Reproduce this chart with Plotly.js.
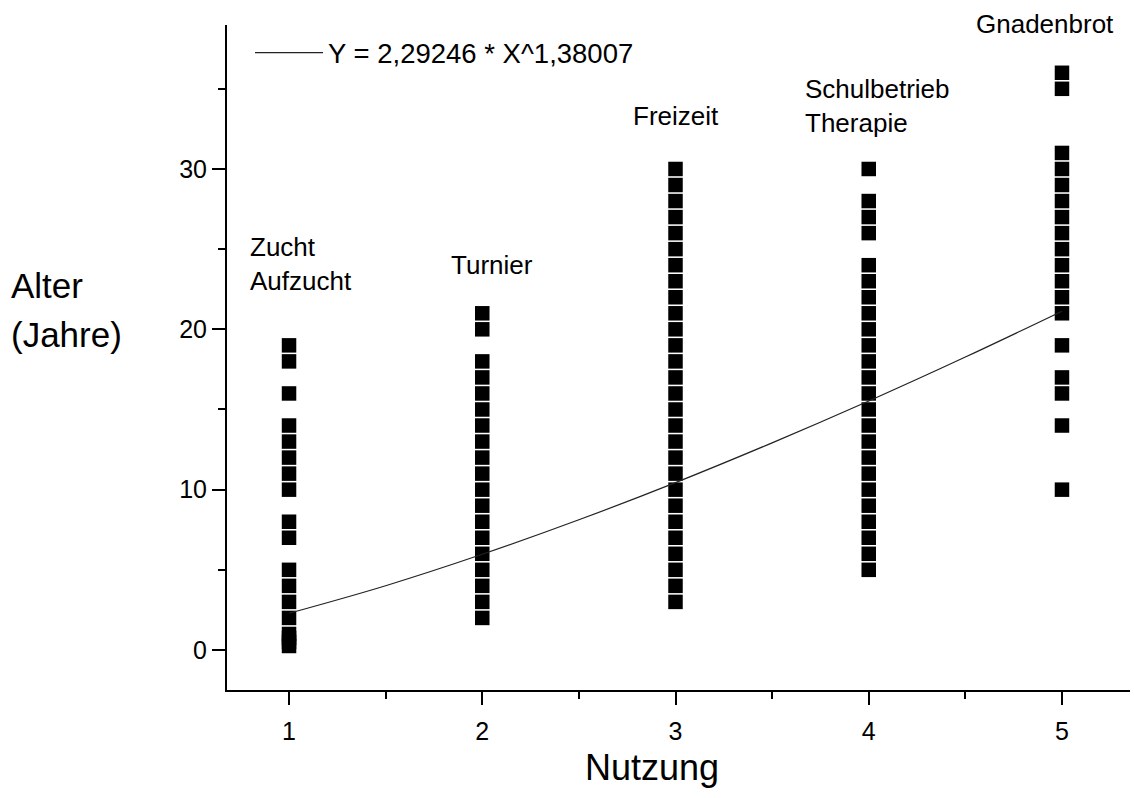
<!DOCTYPE html>
<html>
<head>
<meta charset="utf-8">
<script src="https://cdn.plot.ly/plotly-3.0.1.min.js"></script>
<style>html,body{margin:0;padding:0;background:#fff;}#chart{width:1134px;height:798px;}</style>
</head>
<body>
<div id="chart"></div>
<script>
// Nutzung categories (x positions) and labels
const categoryX = [1, 2, 3, 4, 5];
const categoryLabels = ["Zucht<br>Aufzucht", "Turnier", "Freizeit", "Schulbetrieb<br>Therapie", "Gnadenbrot"];

// Alter (Jahre) values per Nutzung
const alterZucht = [19, 18, 16, 14, 13, 12, 11, 10, 8, 7, 5, 4, 3, 2, 1, 0.75, 0.5, 0.25];
const alterTurnier = [21, 20, 18, 17, 16, 15, 14, 13, 12, 11, 10, 9, 8, 7, 6, 5, 4, 3, 2];
const alterFreizeit = [30, 29, 28, 27, 26, 25, 24, 23, 22, 21, 20, 19, 18, 17, 16, 15, 14, 13, 12, 11, 10, 9, 8, 7, 6, 5, 4, 3];
const alterSchule = [30, 28, 27, 26, 24, 23, 22, 21, 20, 19, 18, 17, 16, 15, 14, 13, 12, 11, 10, 9, 8, 7, 6, 5];
const alterGnadenbrot = [36, 35, 31, 30, 29, 28, 27, 26, 25, 24, 23, 22, 21, 19, 17, 16, 14, 10];

// Fit curve (Y = 2,29246 * X^1,38007)
const fitX = [1, 1.5, 2, 2.5, 3, 3.5, 4, 4.5, 5];
const fitY = [2.29, 4.01, 5.97, 8.12, 10.44, 12.92, 15.53, 18.27, 21.13];
const fitLabel = "Y = 2,29246 * X^1,38007";

const FONT = "Liberation Sans, Arial, sans-serif";
const groups = [alterZucht, alterTurnier, alterFreizeit, alterSchule, alterGnadenbrot];

const traces = groups.map((vals, i) => ({
  type: "scatter", mode: "markers",
  x: vals.map(() => categoryX[i]), y: vals,
  marker: {symbol: "square", size: 14.5, color: "#000", line: {width: 0}},
  showlegend: false, hoverinfo: "x+y", cliponaxis: false
}));
traces.push({
  type: "scatter", mode: "lines", x: fitX, y: fitY, name: fitLabel,
  line: {color: "#222", width: 1.2, shape: "spline"}, showlegend: true
});

const labelPos = [
  {x: 0.788, y: 24.1, yref: "y", xanchor: "left", align: "left"},
  {x: 2.05, y: 24.0, yref: "y", xanchor: "center", align: "center"},
  {x: 3.0, y: 33.3, yref: "y", xanchor: "center", align: "center"},
  {x: 3.66, y: 33.9, yref: "y", xanchor: "left", align: "left"},
  {x: 4.91, y: 1.0015, yref: "paper", xanchor: "center", align: "center"}
];
const annotations = categoryLabels.map((t, i) => Object.assign({
  text: t, xref: "x", yanchor: "middle", showarrow: false,
  font: {family: FONT, size: 26, color: "#000"}
}, labelPos[i]));
annotations.push({
  text: "Alter", xref: "paper", yref: "paper", x: -0.2414, y: 0.609,
  xanchor: "left", yanchor: "middle", align: "left", showarrow: false,
  font: {family: FONT, size: 35, color: "#000"}
});
annotations.push({
  text: "(Jahre)", xref: "paper", yref: "paper", x: -0.2414, y: 0.534,
  xanchor: "left", yanchor: "middle", align: "left", showarrow: false,
  font: {family: FONT, size: 35, color: "#000"}
});
annotations.push({
  text: "Nutzung", xref: "paper", yref: "paper", x: 0.4707, y: -0.116,
  xanchor: "center", yanchor: "middle", showarrow: false,
  font: {family: FONT, size: 36, color: "#000"}
});

const layout = {
  width: 1134, height: 798,
  margin: {l: 227, r: 4, t: 25, b: 108},
  paper_bgcolor: "#fff", plot_bgcolor: "#fff",
  font: {family: FONT, color: "#000"},
  showlegend: true,
  legend: {x: 0.0255, y: 0.995, xanchor: "left", yanchor: "top", bgcolor: "rgba(0,0,0,0)",
           itemwidth: 68,
           font: {family: FONT, size: 27.5, color: "#000"}, borderwidth: 0},
  xaxis: {
    range: [0.679, 5.352], tickvals: categoryX, ticktext: categoryX.map(String),
    showline: true, linecolor: "#000", linewidth: 2, showgrid: false, zeroline: false,
    ticks: "outside", ticklen: 13, tickwidth: 2, tickcolor: "#000", ticklabelstandoff: 5,
    minor: {dtick: 0.5, tick0: 0.5, ticks: "outside", ticklen: 7, tickwidth: 2, tickcolor: "#000"},
    tickfont: {family: FONT, size: 25, color: "#000"},
    title: {text: ""}
  },
  yaxis: {
    range: [-2.495, 38.98], tickvals: [0, 10, 20, 30],
    showline: true, linecolor: "#000", linewidth: 2, showgrid: false, zeroline: false,
    ticks: "outside", ticklen: 13, tickwidth: 2, tickcolor: "#000",
    minor: {dtick: 5, tick0: 5, ticks: "outside", ticklen: 7, tickwidth: 2, tickcolor: "#000"},
    tickfont: {family: FONT, size: 25, color: "#000"},
    title: {text: ""}
  },
  annotations: annotations
};

Plotly.newPlot("chart", traces, layout, {displayModeBar: false, responsive: false});
</script>
</body>
</html>
